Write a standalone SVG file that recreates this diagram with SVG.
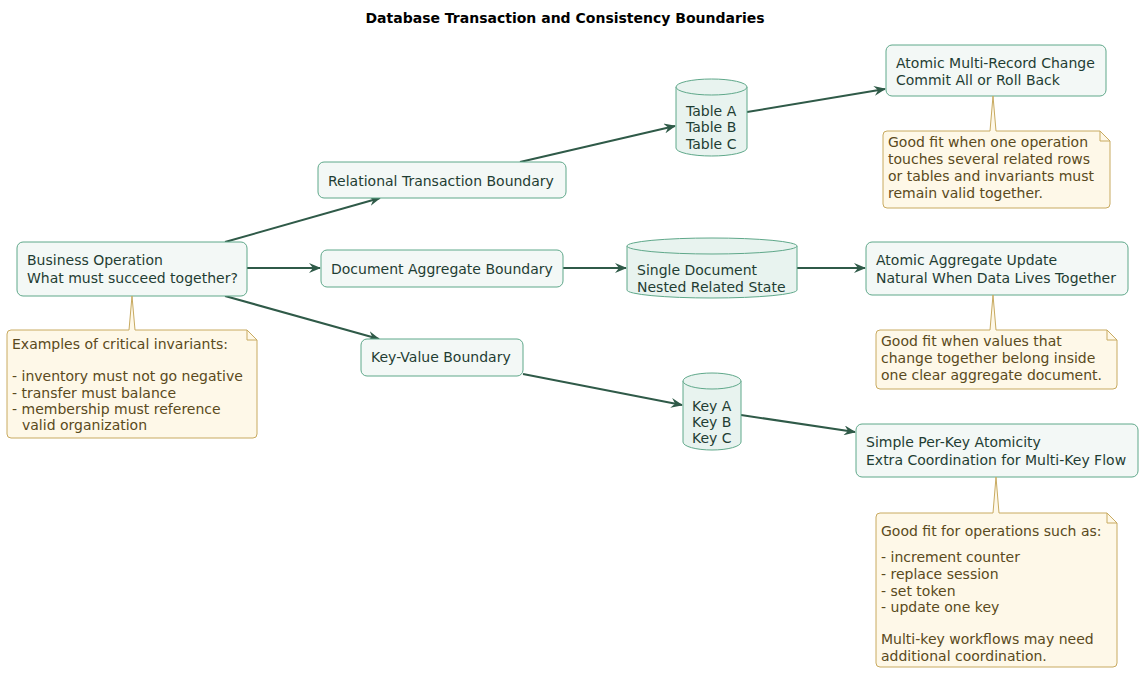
<svg xmlns="http://www.w3.org/2000/svg" width="1142" height="674" viewBox="0 0 1142 674">
<defs>
<style>
text{font-family:"DejaVu Sans",sans-serif;font-size:14px;fill:#1f3d33}
.t{font-weight:bold;font-size:14px;fill:#000}
.n{fill:#f3f8f6;stroke:#5fa88a;stroke-width:1}
.c{fill:#e8f3ef;stroke:#5fa88a;stroke-width:1}
.note{fill:#fef8e8;stroke:#c8aa60;stroke-width:1}
.nt{fill:#5a4a20}
.e{stroke:#2f5a48;stroke-width:2;fill:none;marker-end:url(#a)}
</style>
<marker id="a" viewBox="0 0 12 10" refX="11" refY="5" markerWidth="12" markerHeight="10" markerUnits="userSpaceOnUse" orient="auto">
<path d="M0,0 L12,5 L0,10 L4,5 Z" fill="#2f5a48"/>
</marker>
</defs>
<rect width="1142" height="674" fill="#fff"/>
<text class="t" x="565" y="23" text-anchor="middle">Database Transaction and Consistency Boundaries</text>
<g id="connectors">
<path class="e" d="M225,242 L380,198"/>
<path class="e" d="M247,268 L320,268"/>
<path class="e" d="M225,296 L379,339"/>
<path class="e" d="M520,162 L675,126"/>
<path class="e" d="M563,268 L626,268"/>
<path class="e" d="M523,374 L682,405"/>
<path class="e" d="M747,112 L885,89"/>
<path class="e" d="M797,268 L865,268"/>
<path class="e" d="M741,415 L855,432"/>
</g>
<g id="business"><rect class="n" x="17" y="242" width="230" height="54" rx="6"/><text x="27" y="265">Business Operation</text><text x="27" y="283">What must succeed together?</text></g>
<g id="relational"><rect class="n" x="318" y="162" width="248" height="36" rx="6"/><text x="328" y="186">Relational Transaction Boundary</text></g>
<g id="document"><rect class="n" x="321" y="250" width="242" height="37" rx="6"/><text x="331" y="274">Document Aggregate Boundary</text></g>
<g id="keyvalue"><rect class="n" x="361" y="339" width="162" height="37" rx="6"/><text x="371" y="362">Key-Value Boundary</text></g>
<g id="tables"><path class="c" d="M676,87 A35.5,8 0 0 1 747,87 L747,148 A35.5,8 0 0 1 676,148 Z"/><path class="c" d="M676,87 A35.5,8 0 0 0 747,87" fill="none"/><text x="686" y="116">Table A</text><text x="686" y="132">Table B</text><text x="686" y="149">Table C</text></g>
<g id="doccyl"><path class="c" d="M627,246 A85,8 0 0 1 797,246 L797,290 A85,8 0 0 1 627,290 Z"/><path class="c" d="M627,246 A85,8 0 0 0 797,246" fill="none"/><text x="637" y="275">Single Document</text><text x="637" y="292">Nested Related State</text></g>
<g id="keycyl"><path class="c" d="M683,381 A29,8 0 0 1 741,381 L741,442 A29,8 0 0 1 683,442 Z"/><path class="c" d="M683,381 A29,8 0 0 0 741,381" fill="none"/><text x="692" y="411">Key A</text><text x="692" y="427">Key B</text><text x="692" y="443">Key C</text></g>
<g id="atomic"><rect class="n" x="886" y="45" width="220" height="51" rx="6"/><text x="896" y="68">Atomic Multi-Record Change</text><text x="896" y="85">Commit All or Roll Back</text></g>
<g id="aggregate"><rect class="n" x="866" y="242" width="262" height="53" rx="6"/><text x="876" y="265">Atomic Aggregate Update</text><text x="876" y="283">Natural When Data Lives Together</text></g>
<g id="simple"><rect class="n" x="856" y="424" width="282" height="53" rx="6"/><text x="866" y="447">Simple Per-Key Atomicity</text><text x="866" y="465">Extra Coordination for Multi-Key Flow</text></g>
<g id="note1"><path class="note" d="M11,330 L129,330 L132,296 L135,330 L247,330 L257,340 L257,434 Q257,438 253,438 L11,438 Q7,438 7,434 L7,334 Q7,330 11,330 Z"/><path d="M247,330 L247,340 L257,340" fill="none" stroke="#c8aa60"/>
<text class="nt" x="12" y="349">Examples of critical invariants:</text><text class="nt" x="12" y="381">- inventory must not go negative</text><text class="nt" x="12" y="398">- transfer must balance</text><text class="nt" x="12" y="414">- membership must reference</text><text class="nt" x="12" y="430">  <tspan x="22">valid organization</tspan></text></g>
<g id="note2"><path class="note" d="M887,131 L990,131 L993,96 L996,131 L1100,131 L1110,141 L1110,204 Q1110,208 1106,208 L887,208 Q883,208 883,204 L883,135 Q883,131 887,131 Z"/><path d="M1100,131 L1100,141 L1110,141" fill="none" stroke="#c8aa60"/>
<text class="nt" x="888" y="147">Good fit when one operation</text><text class="nt" x="888" y="164">touches several related rows</text><text class="nt" x="888" y="181">or tables and invariants must</text><text class="nt" x="888" y="198">remain valid together.</text></g>
<g id="note3"><path class="note" d="M880,330 L990,330 L993,295 L996,330 L1107,330 L1117,340 L1117,385 Q1117,389 1113,389 L880,389 Q876,389 876,385 L876,334 Q876,330 880,330 Z"/><path d="M1107,330 L1107,340 L1117,340" fill="none" stroke="#c8aa60"/>
<text class="nt" x="881" y="346">Good fit when values that</text><text class="nt" x="881" y="363">change together belong inside</text><text class="nt" x="881" y="380">one clear aggregate document.</text></g>
<g id="note4"><path class="note" d="M880,513 L993,513 L996,477 L999,513 L1107,513 L1117,523 L1117,663 Q1117,667 1113,667 L880,667 Q876,667 876,663 L876,517 Q876,513 880,513 Z"/><path d="M1107,513 L1107,523 L1117,523" fill="none" stroke="#c8aa60"/>
<text class="nt" x="881" y="536">Good fit for operations such as:</text><text class="nt" x="881" y="562">- increment counter</text><text class="nt" x="881" y="579">- replace session</text><text class="nt" x="881" y="596">- set token</text><text class="nt" x="881" y="612">- update one key</text><text class="nt" x="881" y="644">Multi-key workflows may need</text><text class="nt" x="881" y="661">additional coordination.</text></g>
</svg>
